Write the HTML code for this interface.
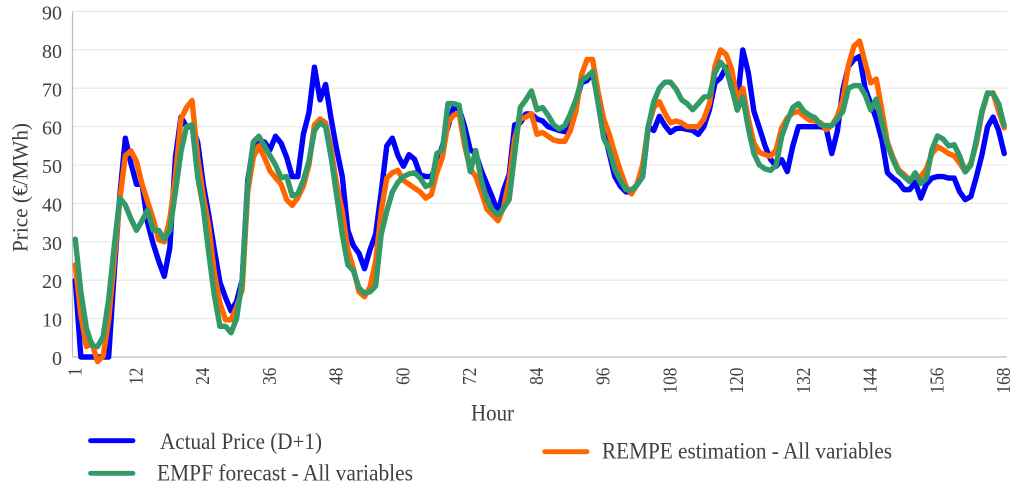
<!DOCTYPE html>
<html lang="en">
<head>
<meta charset="utf-8">
<title>Price chart</title>
<style>
html,body{margin:0;padding:0;background:#fff;}
svg{display:block;}
text{font-family:"Liberation Serif",serif;fill:#404040;}
</style>
</head>
<body>
<svg id="chart" xmlns="http://www.w3.org/2000/svg" width="1024" height="493" viewBox="0 0 1024 493">
  <rect x="0" y="0" width="1024" height="493" fill="#fff"/>
  <g id="grid"></g>
  <g id="axes"></g>
  <g id="series"></g>
  <text transform="translate(27.5,252) rotate(-90)" font-size="22" textLength="129" lengthAdjust="spacingAndGlyphs">Price (€/MWh)</text>
  <text x="471" y="420.5" font-size="23" textLength="43" lengthAdjust="spacingAndGlyphs">Hour</text>
  <g>
    <g>
      <line x1="90.5" y1="440.7" x2="133" y2="440.7" stroke="#0000ff" stroke-width="4.8" stroke-linecap="round"/>
      <text x="160" y="449" font-size="23" textLength="162" lengthAdjust="spacingAndGlyphs">Actual Price (D+1)</text>
    </g>
    <g>
      <line x1="90.5" y1="473.3" x2="133" y2="473.3" stroke="#339966" stroke-width="4.8" stroke-linecap="round"/>
      <text x="157" y="480.5" font-size="23" textLength="256" lengthAdjust="spacingAndGlyphs">EMPF forecast - All variables</text>
    </g>
    <g>
      <line x1="544.7" y1="451.7" x2="587" y2="451.7" stroke="#ff6600" stroke-width="4.8" stroke-linecap="round"/>
      <text x="602" y="458.5" font-size="23" textLength="290" lengthAdjust="spacingAndGlyphs">REMPE estimation - All variables</text>
    </g>
  </g>
</svg>
<script>
const xTickLabels = [1,12,24,36,48,60,72,84,96,108,120,132,144,156,168];
const yTickLabels = [0,10,20,30,40,50,60,70,80,90];
const actualPrice = [
20,0,0,0,0,0,0,22,42,57,50.5,45,
45,35,29.5,25,21,28.5,52,62.5,60,60,56,45,
37,28,19.5,15.5,12,14.5,20,46,55,56.5,56,54,
57.5,55.7,52,47,47,58,63.6,75.5,67,71,62,54,
47,33,29,27,23,28,32,43,55,57,52.5,49.7,
52.7,51.5,47.5,47,47,50,55,60,65,64.7,60,54,
53,48.5,45,41.5,37.5,43.5,47.5,60.5,61,63.3,63.3,62,
61.5,60,59.5,59,58.7,61.5,66,71.5,72,74,67,59,
53,47,44.5,43,43,45,47,60,59,62.7,60.3,58.5,
59.5,59.6,59.3,59,58,60,64.4,71.4,72.7,75.5,70,66,
80,74,64,59.6,55,51.5,49.7,51.4,48.3,55,60,60,
60,60,60,59.5,53,58.8,69.7,75.7,77.5,78.3,70,66,
62,56.6,48,46.6,45.5,43.6,43.6,45.5,41.4,45,46.6,47,
47,46.6,46.6,43,41,41.8,47,52.7,60,62.5,59,53
];
const rempeEstimation = [
24,11,2.7,3.6,-1.2,0.2,9.6,25,41,52.5,53.7,51,
45,40.5,36,30.5,30,36,47,62,65,66.8,52,42,
34,22,14,9.7,9.7,13,17.5,43,52,55,52,48.5,
46.7,45,41,39.5,41.5,44.5,50,60.5,62,61,54,45,
38,28,23,17,15.7,18.3,25,38,46.6,48,48.6,46,
45,44,43,41.4,42.3,48,52,61,63,63.5,55,49,
47,43,38.5,37,35.5,39,46,57,62,62.5,63.4,58,
58.5,57.5,56.5,56.2,56.2,59,64,73.5,77.5,77.5,69,62,
58,53,48.5,44.5,42.5,45,50,60,65,66.5,63.5,61,
61.5,61,60,60,60,62,66,75.7,80,78.8,75,67,
70,62,55.7,53.3,52.7,52.3,54,59.7,62.3,63.6,64,62.8,
61.7,61.5,61,59.2,60.3,62.7,67,76,81,82.3,76.6,71.4,
72.4,64.4,56,52,48.8,47.5,46.2,47,47,49,53,54.8,
54,53,52.4,50.5,48.3,50.5,55.7,63.6,68.6,68.8,64,59.7
];
const empfForecast = [
30.7,17,7.5,3,2.7,5.3,15,28.8,41.4,39.6,36,33,
35.5,38.3,33,33,30.7,33,43,53.5,60,60.5,47,39,
27,16,8,8,6.3,10,20,45,56,57.5,55,52.5,
50,46.7,47,42,42.5,46,51,59,61,60,52,42,
32,24,22.5,18,16.6,17,18.5,32,38,43,45.5,47,
47.7,48,46.6,44.4,45,53,54,66,66,65.6,56.6,48.3,
53.8,46,41,38.3,37,38.8,41,53,65,67,69.3,64.4,
65,63,60.5,59.4,60.3,63.3,67,72,73,74.4,66,57,
54,48.8,46,43.6,43.5,44.8,47,60,66.5,70,71.6,71.6,
69.8,67,66,64.4,66,67.7,68,74,76.8,75,70.3,64.3,
67.7,59.6,53,50,49,48.6,50,57.5,61.5,65,66,64,
63,62.3,60.5,60.3,60.3,62,64,70,70.7,70.7,68.3,64.4,
67.2,61,55.3,51.4,48.3,47,45.7,48,45.2,46.5,54,57.6,
56.8,55,55.3,52.3,48.2,50,56.6,64,68.8,68.6,66,60.3
];

const NS = 'http://www.w3.org/2000/svg';
const plotLeft = 72.5, plotRight = 1007, plotTop = 11.5, plotBottom = 357;
const hourCount = actualPrice.length;
const yMax = yTickLabels[yTickLabels.length - 1];
function xScale(hour) {
  return plotLeft + (hour - 0.5) * (plotRight - plotLeft) / hourCount;
}
function yScale(value) {
  return plotBottom - value * (plotBottom - plotTop) / yMax;
}

const gridGroup = document.getElementById('grid');
const axesGroup = document.getElementById('axes');
const seriesGroup = document.getElementById('series');

yTickLabels.forEach(function (tick) {
  if (tick > 0) {
    const gridLine = document.createElementNS(NS, 'line');
    
    
    gridLine.setAttribute('x1', plotLeft);
    gridLine.setAttribute('x2', plotRight);
    gridLine.setAttribute('y1', yScale(tick));
    gridLine.setAttribute('y2', yScale(tick));
    gridLine.setAttribute('stroke', '#e8e8e8');
    gridLine.setAttribute('stroke-width', '1.2');
    gridGroup.appendChild(gridLine);
  }
  const yLabel = document.createElementNS(NS, 'text');
  
  
  yLabel.setAttribute('x', 62);
  yLabel.setAttribute('y', yScale(tick) + 8);
  yLabel.setAttribute('text-anchor', 'end');
  yLabel.setAttribute('font-size', '20');
  yLabel.textContent = tick;
  axesGroup.appendChild(yLabel);
});

const yAxisLine = document.createElementNS(NS, 'line');


yAxisLine.setAttribute('x1', plotLeft);
yAxisLine.setAttribute('x2', plotLeft);
yAxisLine.setAttribute('y1', plotTop);
yAxisLine.setAttribute('y2', plotBottom);
yAxisLine.setAttribute('stroke', '#bfbfbf');
yAxisLine.setAttribute('stroke-width', '1.2');
axesGroup.appendChild(yAxisLine);

const xAxisLine = document.createElementNS(NS, 'line');


xAxisLine.setAttribute('x1', plotLeft);
xAxisLine.setAttribute('x2', plotRight);
xAxisLine.setAttribute('y1', plotBottom);
xAxisLine.setAttribute('y2', plotBottom);
xAxisLine.setAttribute('stroke', '#bfbfbf');
xAxisLine.setAttribute('stroke-width', '1.2');
axesGroup.appendChild(xAxisLine);

xTickLabels.forEach(function (tick) {
  const xLabel = document.createElementNS(NS, 'text');
  
  
  xLabel.setAttribute('transform', 'translate(' + (xScale(tick) + 6) + ',367.5) rotate(-90) scale(0.87,1)');
  xLabel.setAttribute('text-anchor', 'end');
  xLabel.setAttribute('font-size', '20');
  xLabel.textContent = tick;
  axesGroup.appendChild(xLabel);
});

function drawSeries(values, color, name) {
  const points = values.map(function (value, index) {
    return xScale(index + 1).toFixed(2) + ',' + yScale(value).toFixed(2);
  }).join(' ');
  const line = document.createElementNS(NS, 'polyline');
  
  
  line.setAttribute('points', points);
  line.setAttribute('fill', 'none');
  line.setAttribute('stroke', color);
  line.setAttribute('stroke-width', '5.4');
  line.setAttribute('stroke-linejoin', 'round');
  line.setAttribute('stroke-linecap', 'round');
  seriesGroup.appendChild(line);
}
drawSeries(actualPrice, '#0000ff', 'actual-price-line');
drawSeries(rempeEstimation, '#ff6600', 'rempe-estimation-line');
drawSeries(empfForecast, '#339966', 'empf-forecast-line');
</script>
</body>
</html>
